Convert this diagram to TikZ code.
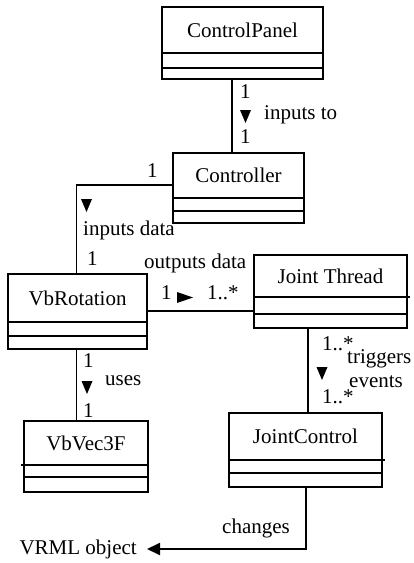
\documentclass[tikz,border=0pt]{standalone}
\usepackage{fontspec}
\setmainfont{Liberation Serif}
\usetikzlibrary{fit,arrows.meta}

\tikzset{
  txt/.style={font=\fontsize{21}{25}\selectfont},
  classframe/.style={draw, line width=1.8pt, inner sep=0pt},
  sepline/.style={line width=1.8pt},
  cname/.style={txt, inner sep=0pt, anchor=base},
  lbl/.style={txt, inner sep=0pt, anchor=base west},
  assoc/.style={line width=1.8pt},
  tri down/.pic={\fill (-5.5,0) -- (5.5,0) -- (0,13) -- cycle;},
  tri right/.pic={\fill (0,-5.5) -- (0,5.5) -- (16,0) -- cycle;},
}

% UML class box: id, left, top, right, first separator, second separator, bottom, title
\newcommand{\umlclass}[8]{%
  \coordinate (#1-nw) at (#2,#3);
  \coordinate (#1-se) at (#4,#7);
  \node[classframe, fit=(#1-nw)(#1-se)] (#1) {};
  \draw[sepline] (#2,#5) -- (#4,#5) (#2,#6) -- (#4,#6);
  \node[cname] (#1-title) at ({(#2+#4)/2},{(#3+#5)/2+7}) {#8};
}

\begin{document}
\begin{tikzpicture}[x=1pt,y=-1pt]
\useasboundingbox (0,0) rectangle (413,563);

% classes
\umlclass{cp}{162}{7}{323}{53}{68}{79}{ControlPanel}
\umlclass{ctl}{173}{153}{304}{198}{211}{223}{Controller}
\umlclass{vbr}{8}{274}{147}{322}{336}{349}{VbRotation}
\umlclass{jt}{254}{255}{407}{297}{314}{328}{Joint Thread}
\umlclass{jc}{229}{413}{382}{460}{473}{487}{JointControl}
\umlclass{vv}{24}{421}{148}{465}{477}{492}{VbVec3F}

% separator overhangs
\draw[sepline] (407,297) -- (410,297);
\draw[sepline] (382,460) -- (385,460);
\draw[sepline] (24,465) -- (21,465);

% routing columns and rows
\coordinate (colA) at (232,0);
\coordinate (colB) at (76.5,0);
\coordinate (colC) at (308,0);
\coordinate (colE) at (306,0);
\coordinate (rowA) at (0,185);
\coordinate (rowB) at (0,311);

% free end of the last association
\node[txt, anchor=east, inner xsep=10pt, inner ysep=0pt] (vrml) at (147,549) {VRML object};

% associations
\draw[assoc] (cp.south -| colA) -- (ctl.north -| colA);
\draw[assoc] (ctl.west |- rowA) -| (vbr.north -| colB);
\draw[assoc] (vbr.east |- rowB) -- (jt.west |- rowB);
\draw[assoc] (jt.south -| colC) -- (jc.north -| colC);
\draw[assoc] (vbr.south -| colB) -- (vv.north -| colB);
\draw[assoc, -{Triangle[length=13pt,width=12pt]}] (jc.south -| colE) |- (vrml);

% ControlPanel - Controller
\node[lbl] (m1) at (240,98) {1};
\pic at (245.5,110) {tri down};
\node[lbl] (l1) at (264,119) {inputs to};
\node[lbl] (m2) at (240,143) {1};

% Controller - VbRotation
\node[lbl] (m3) at (147,177) {1};
\pic at (86.5,199) {tri down};
\node[lbl] (l2) at (83,235) {inputs data};
\node[lbl] (m4) at (87,265) {1};

% VbRotation - Joint Thread
\node[lbl] (l3) at (144,268) {outputs data};
\node[lbl] (m5) at (161,299) {1};
\pic at (177,297.5) {tri right};
\node[lbl] (m6) at (207,299) {1..*};

% Joint Thread - JointControl
\node[lbl] (m7) at (322,350) {1..*};
\node[lbl] (l4) at (347,363) {triggers};
\pic at (322,367) {tri down};
\node[lbl] (l5) at (349,387) {events};
\node[lbl] (m8) at (322,403) {1..*};

% VbRotation - VbVec3F
\node[lbl] (m9) at (83,367) {1};
\pic at (87,381) {tri down};
\node[lbl] (l6) at (105,385) {uses};
\node[lbl] (m10) at (83,417) {1};

% JointControl - VRML object
\node[lbl] (l7) at (222,533) {changes};
\end{tikzpicture}
\end{document}
